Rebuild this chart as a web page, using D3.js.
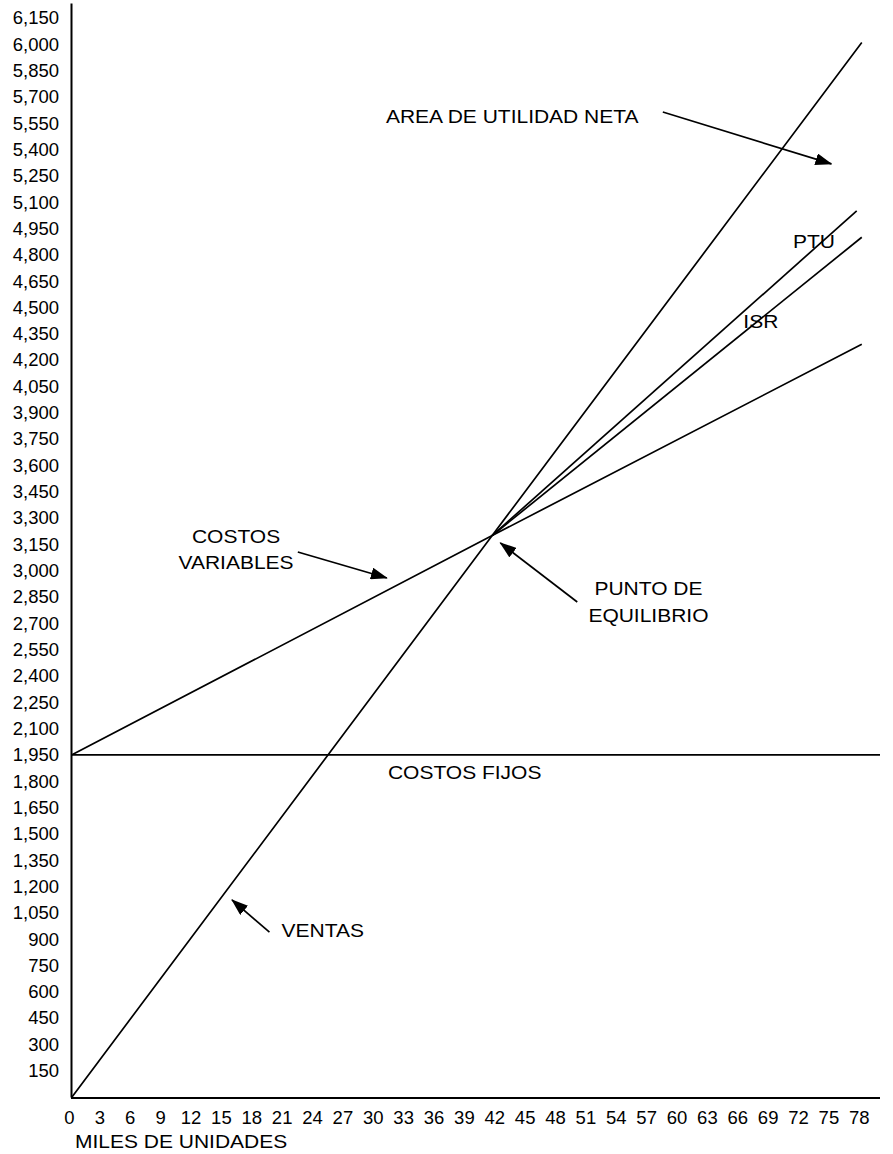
<!DOCTYPE html>
<html>
<head>
<meta charset="utf-8">
<script src="https://cdn.jsdelivr.net/npm/d3@7"></script>
<style>
  body { margin: 0; background: #fff; }
  svg text { font-family: "Liberation Sans", Arial, sans-serif; fill: #000; }
</style>
</head>
<body>
<div class="chart"></div>
<script>
const WIDTH = 893;
const HEIGHT = 1154;

// miles de unidades
var xTicks = [0, 3, 6, 9, 12, 15, 18, 21, 24, 27, 30, 33, 36, 39, 42, 45, 48, 51, 54, 57, 60, 63, 66, 69, 72, 75, 78];
var yTicks = [150, 300, 450, 600, 750, 900, 1050, 1200, 1350, 1500, 1650, 1800, 1950, 2100, 2250, 2400,
              2550, 2700, 2850, 3000, 3150, 3300, 3450, 3600, 3750, 3900, 4050, 4200, 4350, 4500, 4650,
              4800, 4950, 5100, 5250, 5400, 5550, 5700, 5850, 6000, 6150];

var unidades = [0, 41.5, 78];
var ventas = [0, 3200, 6010];
var costosVariables = [1950, 3200, 4290];

var fijosUnidades = [0, 79.8];
var costosFijos = [1950, 1950];

var isrUnidades = [41.5, 78];
var isr = [3200, 4900];
var ptuUnidades = [41.5, 77.5];
var ptu = [3200, 5050];

var _svg;

var translate = function (x, y) {
    return "translate(" + x + "," + y + ")";
};

var x = d3.scaleLinear().domain([0, 79.8]).range([72, 880]);
var y = d3.scaleLinear().domain([0, 6235]).range([1097, 3]);

var toPoints = function (xs, ys) {
    return xs.map(function (d, i) { return [d, ys[i]]; });
};

var generateChart = function () {
    _svg = d3.select('.chart').append('svg')
        .attr('width', WIDTH)
        .attr('height', HEIGHT)
        .style('background', '#fff');

    var defs = _svg.append('defs');
    defs.append('marker')
        .attr('id', 'head')
        .attr('markerUnits', 'userSpaceOnUse')
        .attr('viewBox', '0 0 17 12')
        .attr('refX', 16)
        .attr('refY', 6)
        .attr('markerWidth', 17)
        .attr('markerHeight', 12)
        .attr('orient', 'auto')
        .append('path')
        .attr('d', 'M0,0 L17,6 L0,12 Z')
        .attr('fill', '#000');

    // ejes
    var yAxis = d3.axisLeft(y)
        .tickValues(yTicks)
        .tickSize(0)
        .tickPadding(12)
        .tickFormat(d3.format(','));

    var gy = _svg.append('g')
        .attr('transform', translate(71, 0))
        .call(yAxis);
    gy.select('.domain').attr('stroke', '#000').attr('stroke-width', 2);
    gy.selectAll('text').style('font-size', '18.5px').attr('fill', '#000');

    var xAxis = d3.axisBottom(x)
        .tickValues(xTicks)
        .tickSize(0)
        .tickPadding(13);

    var gx = _svg.append('g')
        .attr('transform', translate(0, 1098))
        .call(xAxis);
    gx.select('.domain').attr('stroke', '#000').attr('stroke-width', 2)
        .attr('d', 'M71,0H880');
    gx.selectAll('text').style('font-size', '18.5px').attr('fill', '#000')
        .attr('dx', '-3');

    var line = d3.line()
        .x(function (d) { return x(d[0]); })
        .y(function (d) { return y(d[1]); });

    var series = [
        toPoints(unidades, ventas),
        toPoints(fijosUnidades, costosFijos),
        toPoints(unidades, costosVariables),
        toPoints(isrUnidades, isr),
        toPoints(ptuUnidades, ptu)
    ];

    _svg.append('g').selectAll('path')
        .data(series)
        .enter()
        .append('path')
        .attr('d', line)
        .attr('fill', 'none')
        .attr('stroke', '#000')
        .attr('stroke-width', 1.7);

    // anotaciones (en unidades de datos)
    var flechas = [
        [[58.35, 5614], [75.0, 5318]],
        [[22.3, 3106], [31.1, 2958]],
        [[49.9, 2821], [42.3, 3158]],
        [[19.5, 940], [15.8, 1123]]
    ];

    _svg.append('g').selectAll('path')
        .data(flechas)
        .enter()
        .append('path')
        .attr('d', line)
        .attr('fill', 'none')
        .attr('stroke', '#000')
        .attr('stroke-width', 1.7)
        .attr('marker-end', 'url(#head)');

    var textos = [
        { t: 'AREA DE UTILIDAD NETA', u: 31.0, v: 5551, a: 'start' },
        { t: 'PTU', u: 71.2, v: 4839, a: 'start' },
        { t: 'ISR', u: 66.3, v: 4383, a: 'start' },
        { t: 'COSTOS', u: 16.2, v: 3158, a: 'middle' },
        { t: 'VARIABLES', u: 16.2, v: 3009, a: 'middle' },
        { t: 'PUNTO DE', u: 51.6, v: 2861, a: 'start' },
        { t: 'EQUILIBRIO', u: 51.0, v: 2707, a: 'start' },
        { t: 'COSTOS FIJOS', u: 31.2, v: 1812, a: 'start' },
        { t: 'VENTAS', u: 20.7, v: 912, a: 'start' }
    ];

    _svg.append('g').selectAll('text')
        .data(textos)
        .enter()
        .append('text')
        .attr('transform', function (d) {
            return translate(x(d.u), y(d.v)) + ' scale(1.2,1)';
        })
        .attr('text-anchor', function (d) { return d.a; })
        .style('font-size', '17.5px')
        .text(function (d) { return d.t; });

    _svg.append('text')
        .attr('transform', translate(75, 1148) + ' scale(1.2,1)')
        .style('font-size', '17.5px')
        .text('MILES DE UNIDADES');
};

generateChart();
</script>
</body>
</html>
